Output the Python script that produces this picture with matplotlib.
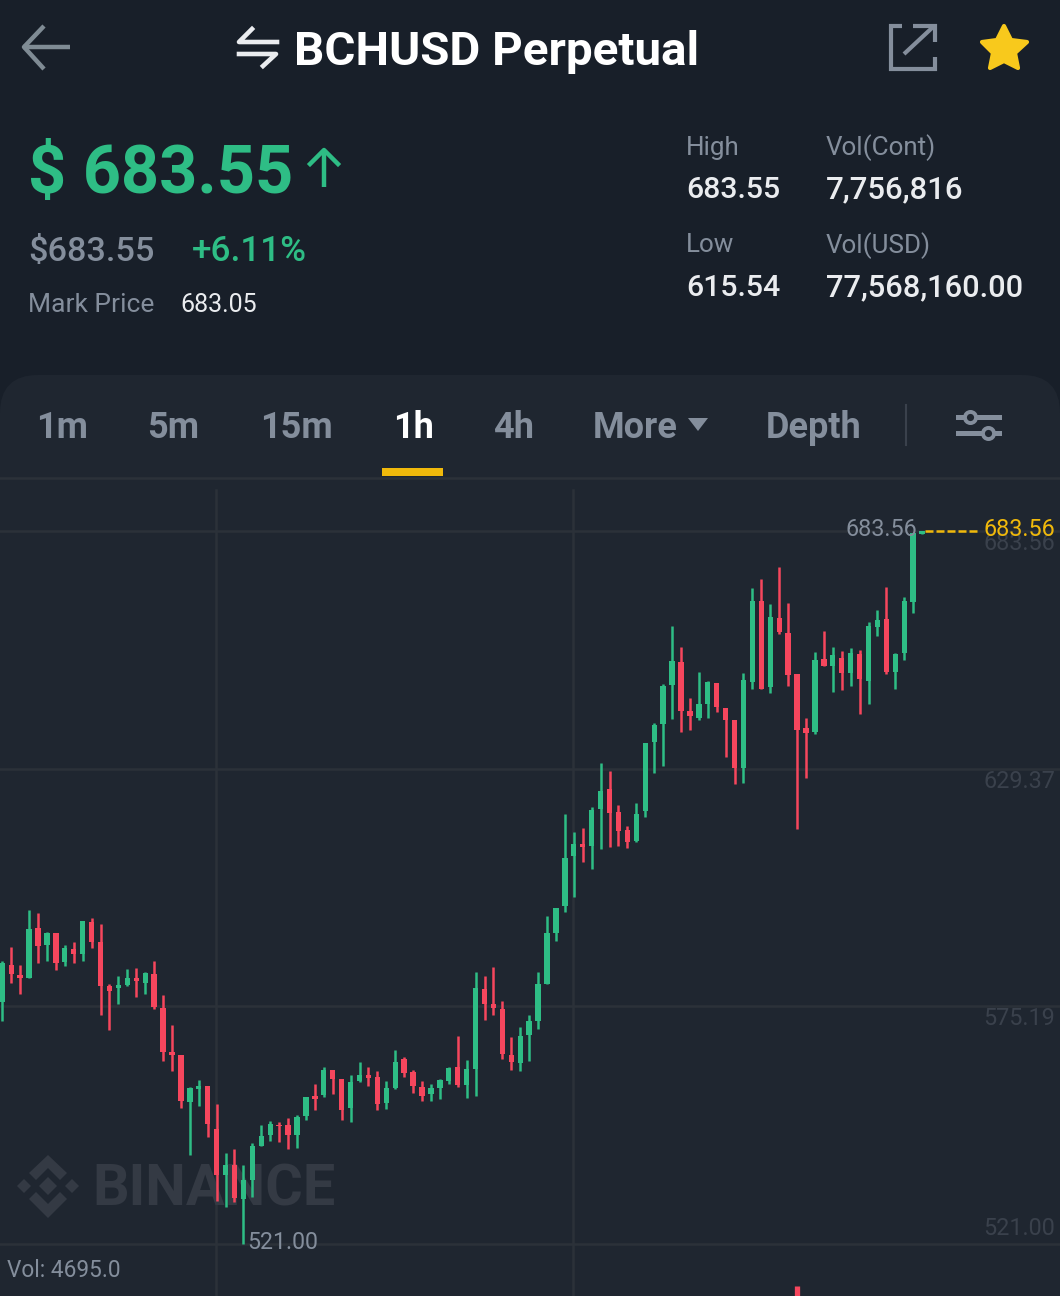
import matplotlib
matplotlib.use('Agg')
import matplotlib.pyplot as plt
from matplotlib.patches import Polygon, Rectangle, FancyBboxPatch

# candle values, oldest first
opens = [576.2,584.6,582.3,581.6,592.9,589.0,591.9,585.2,588.3,587.1,594.3,589.8,579.7,579.4,579.9,581.6,580.4,582.6,574.7,564.6,
	564.1,553.3,556.3,557.0,547.2,536.6,538.9,531.2,535.6,543.3,545.8,548.1,548.0,545.8,550.2,554.6,554.9,560.5,558.5,552.0,
	558.1,559.4,558.9,553.1,556.4,563.2,560.1,556.8,555.0,556.4,558.1,561.2,557.2,560.8,579.1,575.6,574.5,563.9,562.1,568.5,
	571.8,580.2,591.9,598.1,609.4,612.1,611.7,620.1,624.6,619.5,615.3,612.9,619.7,635.5,639.5,648.4,653.6,642.4,641.0,644.2,
	648.9,643.2,640.5,629.6,649.0,667.7,647.9,663.8,660.4,650.9,638.5,637.6,654.3,652.8,654.5,651.2,655.6,649.3,661.7,663.5,
	651.4,655.8,667.4,682.9]
highs = [585.5,588.6,584.5,597.1,596.5,592.0,591.9,589.0,589.8,594.6,595.2,594.0,580.3,582.0,583.6,583.9,582.9,585.4,577.8,570.9,
	564.1,556.8,558.2,557.0,552.9,541.7,542.5,538.8,543.9,548.0,548.9,548.8,549.6,550.4,554.5,557.3,561.2,560.6,558.5,559.4,
	562.3,561.3,560.4,558.0,565.1,563.6,560.6,558.1,557.5,558.6,561.2,568.3,562.8,582.9,582.0,584.0,576.3,568.2,570.5,573.1,
	582.9,595.8,597.6,618.9,614.8,615.7,620.5,630.6,628.7,621.0,616.2,621.6,635.3,639.8,648.6,661.8,657.0,645.5,651.5,649.3,
	648.9,643.2,640.5,651.2,670.5,672.5,666.9,675.3,667.1,650.9,641.0,656.0,660.8,657.1,656.1,656.8,656.5,662.7,665.6,670.8,
	655.8,668.6,683.0,683.56]
lows = [571.8,580.4,578.0,581.5,585.1,585.4,583.3,584.2,585.1,585.5,588.5,573.2,569.6,575.7,579.8,577.3,578.0,574.6,562.7,560.4,
	552.0,541.3,552.3,545.4,530.8,529.4,530.5,521.0,531.5,543.2,544.4,544.2,542.6,542.9,549.1,551.5,554.4,555.2,549.1,548.8,
	557.9,556.9,551.5,551.8,556.3,558.9,555.4,553.6,553.4,554.0,557.5,556.6,554.3,554.7,572.1,573.2,563.2,560.5,560.4,562.7,
	570.0,580.1,590.1,596.7,600.0,608.1,606.5,611.0,611.5,611.8,611.2,612.5,618.4,628.4,630.0,640.7,637.6,638.2,640.5,640.9,
	642.2,632.0,625.9,626.1,647.4,647.5,646.7,660.1,648.3,615.5,627.1,637.2,652.8,646.9,647.2,648.1,641.8,644.0,659.7,650.9,
	647.4,654.2,664.9,682.9]
closes = [584.9,582.5,581.6,592.8,588.8,591.8,585.1,588.4,587.0,594.6,589.9,579.7,578.7,579.9,581.6,580.8,582.7,574.9,564.6,564.1,
	553.5,556.4,556.9,548.2,536.7,538.9,531.3,535.5,543.3,545.6,548.3,547.7,545.8,549.8,554.5,554.0,560.5,558.5,551.5,557.9,
	559.4,558.8,552.8,556.4,562.3,560.0,557.0,554.7,556.4,558.2,561.0,557.2,560.7,579.4,575.7,574.7,564.3,562.3,568.3,571.8,
	580.3,591.9,597.6,608.9,612.1,611.5,620.0,624.2,619.2,615.0,612.5,619.0,635.3,639.4,648.2,653.8,642.4,641.4,644.2,649.0,
	643.4,640.4,629.6,649.5,667.7,647.6,663.9,660.5,650.8,638.2,637.4,654.1,652.8,655.3,651.2,655.7,649.9,661.8,663.2,651.4,
	655.5,667.6,683.0,683.56]

grid_prices = [683.56, 629.37, 575.19, 521.00]
scale_labels = ['683.56', '629.37', '575.19', '521.00']
last_price = '683.56'
low_label = '521.00'
vol_text = 'Vol: 4695.0'
vol_bar_index = 89
vol_bar_top = 511.3

tabs = ['1m', '5m', '15m', '1h', '4h', 'More', 'Depth']

BG = '#181f29'
PANEL = '#1f2630'
GRID = '#2b3139'
GREEN = '#2ebd85'
RED = '#f6465d'
YELLOW = '#f0b90b'
GREY = '#848e9c'
DIM = '#3a414c'
WHITE = '#eaecef'
FONT = ['Roboto', 'DejaVu Sans']

plt.rcParams['font.family'] = FONT

fig = plt.figure(figsize=(10.6, 12.96), dpi=100, facecolor=BG)

# chrome axes works in image pixels
def pixel_axes(z):
	a = fig.add_axes([0, 0, 1, 1], facecolor='none', zorder=z)
	a.set_xlim(0, 1060)
	a.set_ylim(1296, 0)
	a.axis('off')
	return a

ui = pixel_axes(0)
top = pixel_axes(2)

ui.add_patch(FancyBboxPatch((0, 375), 1060, 1000, boxstyle='round,pad=0,rounding_size=38',
	fc=PANEL, ec='none', mutation_aspect=1))
ui.plot([0, 1060], [478, 478], color=GRID, lw=1.8)

def txt(x, y, s, size, color=WHITE, weight='normal', ha='left', target=None, **kw):
	(target or ui).text(x, y + 2.5, s, fontsize=size, color=color, fontweight=weight, ha=ha, va='center', **kw)

# back arrow
ui.plot([70, 23], [47, 47], color='#7f8b94', lw=3.2, solid_capstyle='butt')
ui.plot([44, 24, 44], [26, 47, 69], color='#7f8b94', lw=3.2, solid_capstyle='butt')

# swap icon
ui.plot([252, 239, 277], [29, 42, 42], color=WHITE, lw=3.3)
ui.plot([239, 276, 263], [54, 54, 66], color=WHITE, lw=3.3)

txt(294, 50, 'BCHUSD Perpetual', 34.2, color='white', weight='bold')

# external link icon
ui.plot([902, 890.5, 890.5, 934.5, 934.5], [26, 26, 69, 69, 57], color=GREY, lw=3.0, solid_joinstyle='miter', solid_capstyle='butt')
ui.plot([934.5, 934.5, 913], [42, 26, 26], color=GREY, lw=3.0, solid_joinstyle='miter', solid_capstyle='butt')
ui.plot([904, 933], [54, 27], color=GREY, lw=3.0, solid_capstyle='butt')

# star
star = [(1004, 26), (1011, 40), (1027, 42), (1015, 53), (1018, 68), (1004, 61), (990, 68), (993, 53), (982, 42), (997, 40)]
ui.add_patch(Polygon(star, closed=True, fc='#f8c91c', ec='#f8c91c', lw=3, joinstyle='round'))

txt(28, 172, '$ 683.55', 48, color=GREEN, weight='bold')
ui.plot([324, 324], [151, 187], color=GREEN, lw=3.2, solid_capstyle='butt')
ui.plot([310, 324, 338], [164, 150, 164], color=GREEN, lw=3.2)
txt(28, 249, '$683.55', 24.7, color=GREY, weight='medium')
txt(192, 249, '+6.11%', 25.3, color=GREEN, weight='medium')
txt(28, 302, 'Mark Price', 19, color=GREY)
txt(180, 302, '683.05', 18, color=WHITE)

txt(686, 145, 'High', 18.7, color=GREY)
txt(686, 187, '683.55', 21.8, color=WHITE, weight='medium')
txt(826, 145, 'Vol(Cont)', 18.7, color=GREY)
txt(826, 187, '7,756,816', 22.4, color=WHITE, weight='medium')
txt(686, 243, 'Low', 18.7, color=GREY)
txt(686, 285, '615.54', 21.8, color=WHITE, weight='medium')
txt(826, 243, 'Vol(USD)', 18.7, color=GREY)
txt(826, 285, '77,568,160.00', 22.2, color=WHITE, weight='medium')

tab_x = [36, 147, 260, 393, 493, 593, 766]
for x, t in zip(tab_x, tabs):
	col = 'white' if t == '1h' else GREY
	txt(x, 425, t, 26, color=col, weight='bold')
ui.add_patch(Polygon([(688, 418), (708, 418), (698, 431)], closed=True, fc=GREY, ec='none'))
ui.add_patch(Rectangle((382, 468), 61, 8, fc=YELLOW, ec='none'))
ui.plot([906, 906], [405, 445], color='#3a414c', lw=1.5)

# filter icon
ui.plot([958, 999], [417, 417], color=GREY, lw=3.6)
ui.plot([958, 999], [433, 433], color=GREY, lw=3.6)
ui.plot([970], [417], 'o', ms=8, mfc=PANEL, mec=GREY, mew=2.8)
ui.plot([988], [433], 'o', ms=8, mfc=PANEL, mec=GREY, mew=2.8)

# price axes spans the chart area under the tabs
ax = fig.add_axes([0, 0, 1, (1296 - 479) / 1296], facecolor='none', zorder=1)
px_per_candle = 8.93
ax.set_xlim(-2.3 / px_per_candle, (1060 - 2.3) / px_per_candle)
px_per_usd = (1243.5 - 531) / (grid_prices[0] - grid_prices[-1])
ax.set_ylim(grid_prices[-1] - (1296 - 1243.5) / px_per_usd, grid_prices[0] + (531 - 479) / px_per_usd)
ax.axis('off')

for p in grid_prices:
	ax.axhline(p, color=GRID, lw=1.8, zorder=1)
for xpx in [216, 573]:
	ui.plot([xpx, xpx], [490, 1296], color=GRID, lw=1.8, zorder=3)

# watermark
wm = '#343a44'
for pts in [[(48, 1155), (67, 1173), (60, 1180), (48, 1168), (36, 1180), (29, 1173)],
		[(48, 1218), (29, 1199), (36, 1192), (48, 1204), (60, 1192), (67, 1199)],
		[(48, 1177), (57, 1186), (48, 1195), (39, 1186)],
		[(17, 1186), (24, 1179), (31, 1186), (24, 1193)],
		[(65, 1186), (72, 1179), (79, 1186), (72, 1193)]]:
	ui.add_patch(Polygon(pts, closed=True, fc=wm, ec='none', zorder=3))
txt(92, 1188, 'BINANCE', 41.4, color=wm, weight='bold', zorder=3)

up = [c >= o for o, c in zip(opens, closes)]
for i in range(len(opens)):
	col = GREEN if up[i] else RED
	ax.vlines(i, lows[i], highs[i], color=col, lw=1.8, zorder=4)
	ax.bar(i, abs(closes[i] - opens[i]), bottom=min(opens[i], closes[i]), width=0.6, color=col, zorder=4)
ax.vlines(vol_bar_index, ax.get_ylim()[0], vol_bar_top, color=RED, lw=3.8, zorder=4)

# labels on the price scale
top.plot([925, 977], [531, 531], color=YELLOW, lw=1.8, ls=(0, (3.2, 1.2)), zorder=5)
txt(917, 527.5, last_price, 16.8, color=GREY, ha='right', target=top, zorder=6)
txt(1055, 541, scale_labels[0], 16.8, color=DIM, ha='right', target=top, zorder=5)
txt(1055, 527.5, last_price, 16.8, color=YELLOW, ha='right', target=top, zorder=6)
txt(1055, 779, scale_labels[1], 16.8, color=DIM, ha='right', target=top, zorder=5)
txt(1055, 1016, scale_labels[2], 16.8, color=DIM, ha='right', target=top, zorder=5)
txt(1055, 1226, scale_labels[3], 16.8, color=DIM, ha='right', target=top, zorder=5)
txt(247, 1240, low_label, 16.7, color=GREY, target=top, zorder=6)
txt(7, 1268, vol_text, 16.3, color=GREY, target=top, zorder=6)

fig.savefig('out.png', dpi=100, facecolor=BG)
